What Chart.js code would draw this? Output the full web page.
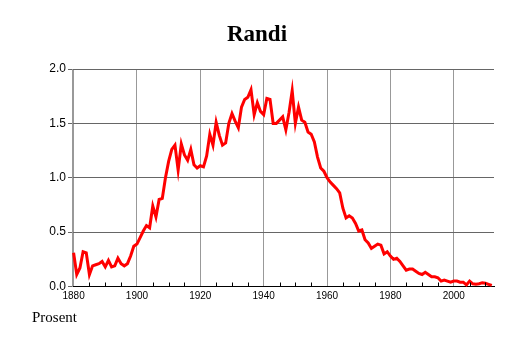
<!DOCTYPE html>
<html>
<head>
<meta charset="utf-8">
<script src="https://cdn.jsdelivr.net/npm/chart.js@4"></script>
<style>
body { margin: 0; background: #fff; }
#wrap { position: relative; width: 514px; height: 343px; }
#title { position: absolute; left: 0; top: 22px; width: 514px; text-align: center; font: bold 23px "Liberation Serif", serif; line-height: 23px; color: #000; }
#yLabel { position: absolute; left: 32px; top: 310px; font: 15px "Liberation Serif", serif; line-height: 15px; color: #000; }
</style>
</head>
<body>
<div id="wrap">
  <canvas id="myChart" width="514" height="343"></canvas>
  <div id="title">Randi</div>
  <div id="yLabel">Prosent</div>
</div>
<script>
// år
const years = [
  1880, 1881, 1882, 1883, 1884, 1885, 1886, 1887, 1888, 1889,
  1890, 1891, 1892, 1893, 1894, 1895, 1896, 1897, 1898, 1899,
  1900, 1901, 1902, 1903, 1904, 1905, 1906, 1907, 1908, 1909,
  1910, 1911, 1912, 1913, 1914, 1915, 1916, 1917, 1918, 1919,
  1920, 1921, 1922, 1923, 1924, 1925, 1926, 1927, 1928, 1929,
  1930, 1931, 1932, 1933, 1934, 1935, 1936, 1937, 1938, 1939,
  1940, 1941, 1942, 1943, 1944, 1945, 1946, 1947, 1948, 1949,
  1950, 1951, 1952, 1953, 1954, 1955, 1956, 1957, 1958, 1959,
  1960, 1961, 1962, 1963, 1964, 1965, 1966, 1967, 1968, 1969,
  1970, 1971, 1972, 1973, 1974, 1975, 1976, 1977, 1978, 1979,
  1980, 1981, 1982, 1983, 1984, 1985, 1986, 1987, 1988, 1989,
  1990, 1991, 1992, 1993, 1994, 1995, 1996, 1997, 1998, 1999,
  2000, 2001, 2002, 2003, 2004, 2005, 2006, 2007, 2008, 2009,
  2010, 2011, 2012
];

// prosent med navnet Randi
const prosent = [
  0.31, 0.11, 0.17, 0.32, 0.31, 0.11, 0.19, 0.20, 0.21, 0.23,
  0.18, 0.24, 0.18, 0.19, 0.26, 0.21, 0.19, 0.21, 0.28, 0.37,
  0.39, 0.45, 0.51, 0.56, 0.54, 0.74, 0.64, 0.80, 0.81, 1.00,
  1.15, 1.26, 1.30, 1.07, 1.31, 1.21, 1.16, 1.26, 1.12, 1.09,
  1.11, 1.10, 1.20, 1.40, 1.30, 1.51, 1.39, 1.30, 1.32, 1.50,
  1.59, 1.52, 1.46, 1.65, 1.72, 1.74, 1.81, 1.58, 1.69, 1.61,
  1.58, 1.73, 1.72, 1.50, 1.50, 1.53, 1.56, 1.44, 1.60, 1.80,
  1.50, 1.65, 1.53, 1.51, 1.42, 1.40, 1.33, 1.19, 1.09, 1.06,
  1.00, 0.96, 0.93, 0.90, 0.86, 0.72, 0.63, 0.65, 0.63, 0.58,
  0.51, 0.52, 0.43, 0.40, 0.35, 0.37, 0.39, 0.38, 0.30, 0.32,
  0.28, 0.25, 0.26, 0.23, 0.19, 0.15, 0.16, 0.16, 0.14, 0.12,
  0.11, 0.13, 0.11, 0.09, 0.09, 0.08, 0.05, 0.06, 0.05, 0.04,
  0.05, 0.05, 0.04, 0.04, 0.015, 0.05, 0.025, 0.02, 0.025, 0.035,
  0.03, 0.02, 0.01
];

const xTicks = [1880, 1900, 1920, 1940, 1960, 1980, 2000];
const yTicks = [0, 0.5, 1.0, 1.5, 2.0];

// små streker hvert femte år langs x-aksen
const minorTicks = {
  id: 'minorTicks',
  afterDatasetsDraw(chart) {
    const ctx = chart.ctx, x = chart.scales.x, area = chart.chartArea;
    ctx.save();
    ctx.strokeStyle = '#000';
    ctx.lineWidth = 1;
    for (let yr = 1885; yr <= 2010; yr += 5) {
      if (yr % 20 === 0) continue;
      const px = Math.round(x.getPixelForValue(yr)) + 0.5;
      ctx.beginPath();
      ctx.moveTo(px, area.bottom);
      ctx.lineTo(px, area.bottom - 4);
      ctx.stroke();
    }
    ctx.restore();
  }
};

const data = {
  datasets: [{
    label: 'Randi',
    data: years.map((yr, i) => ({ x: yr, y: prosent[i] })),
    borderColor: '#ff0000',
    backgroundColor: '#ff0000',
    borderWidth: 3,
    pointRadius: 0,
    tension: 0,
    clip: false
  }]
};

const config = {
  type: 'line',
  data: data,
  options: {
    responsive: false,
    animation: false,
    layout: { padding: { left: 0, right: 20, top: 69, bottom: 36.5 } },
    plugins: {
      legend: { display: false },
      tooltip: { enabled: false },
      title: { display: false }
    },
    scales: {
      x: {
        type: 'linear',
        min: 1879.5,
        max: 2012.7,
        afterBuildTicks: (scale) => { scale.ticks = xTicks.map(v => ({ value: v })); },
        afterFit: (scale) => { scale.height = 20; },
        grid: { color: '#999', drawTicks: false },
        border: { display: true, color: '#000', width: 1 },
        ticks: {
          color: '#000',
          padding: 4,
          maxRotation: 0,
          font: { family: 'Liberation Sans', size: 10 },
          callback: (v) => String(v)
        }
      },
      y: {
        min: 0,
        max: 2,
        afterBuildTicks: (scale) => { scale.ticks = yTicks.map(v => ({ value: v })); },
        afterFit: (scale) => { scale.width = 72; },
        grid: { color: '#666', tickLength: 4 },
        border: { display: true, color: '#999', width: 1 },
        ticks: {
          color: '#000',
          padding: 2,
          font: { family: 'Liberation Sans', size: 12 },
          callback: (v) => Number(v).toFixed(1)
        }
      }
    }
  },
  plugins: [minorTicks]
};

const myChart = new Chart(document.getElementById('myChart'), config);
</script>
</body>
</html>
